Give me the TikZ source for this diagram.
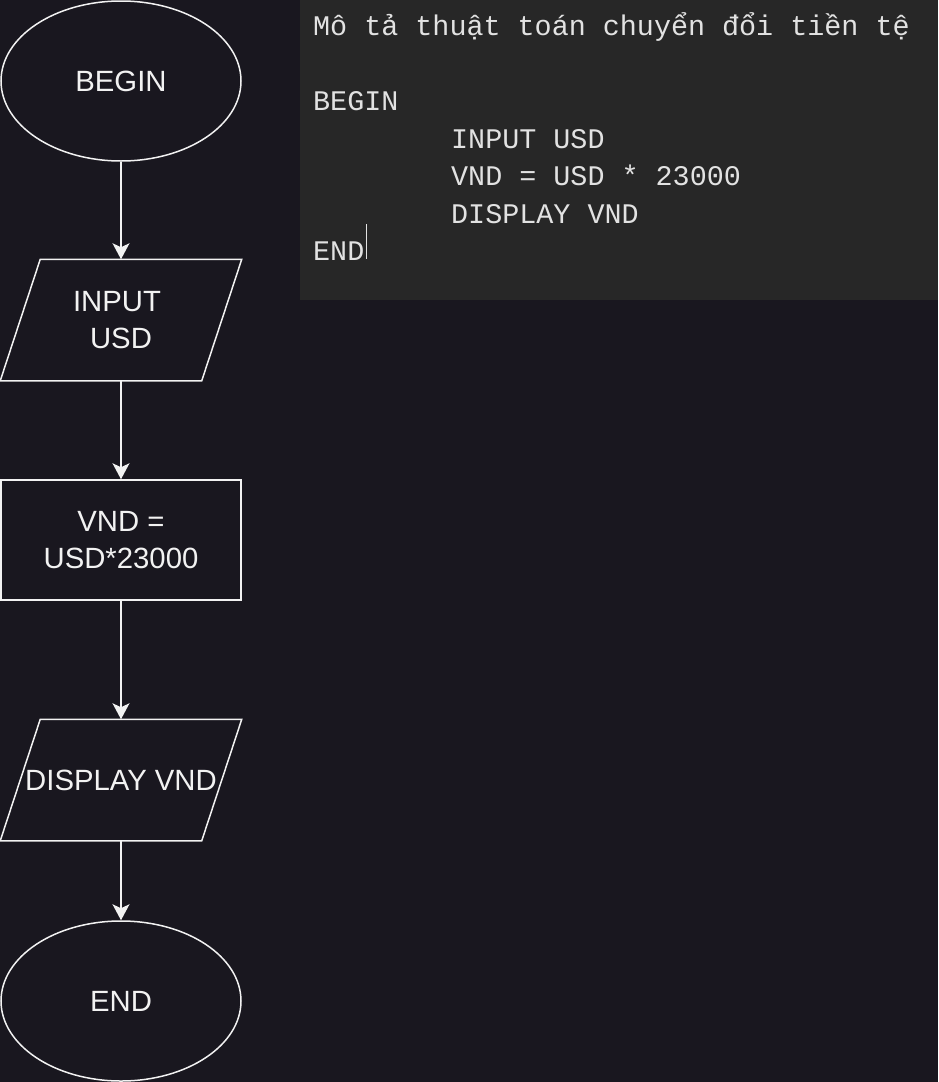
\documentclass[tikz,border=0pt]{standalone}
\usepackage{fontspec}
\usepackage{tikz}
\usetikzlibrary{shapes.geometric,arrows.meta}
\setmainfont{Liberation Sans}
\newfontfamily\codefont{Liberation Mono}
\definecolor{bgdark}{HTML}{19171F}
\definecolor{codebg}{HTML}{272727}
\definecolor{codetext}{HTML}{E2E2E2}
\definecolor{chartline}{HTML}{F2F2F2}
\tikzset{
  chart/.style={draw=chartline, line width=1.5pt, text=chartline, inner sep=0pt,
    font=\fontsize{29.3}{36.5}\selectfont, align=center},
  terminal/.style={chart, ellipse, minimum width=240pt, minimum height=160pt},
  iobox/.style={chart, draw=none, rectangle, minimum width=240pt, minimum height=120pt},
  slant/.style={draw=chartline, line width=1.5pt},
  procbox/.style={chart, rectangle, minimum width=240pt, minimum height=120pt},
  flow/.style={draw=chartline, line width=1.5pt, -{Stealth[length=16pt,width=17pt,inset=4pt]}},
  codeline/.style={anchor=base west, inner sep=0pt, text=codetext,
    font=\codefont\fontsize{28.4}{37.5}\selectfont}
}
\newcommand{\iooutline}[1]{%
  \draw[slant] ([xshift=40pt]#1.north west) -- (#1.north east)
    -- ([xshift=-40pt]#1.south east) -- (#1.south west) -- cycle;}

\begin{document}
\begin{tikzpicture}[x=1pt, y=-1pt]
  \fill[bgdark] (0,0) rectangle (938,1082);
  \useasboundingbox (0,0) rectangle (938,1082);
  % pseudo code panel
  \fill[codebg] (300,0) rectangle (938,300);
  \foreach \n/\x/\y/\t in {title/313/35.4/{Mô tả thuật toán chuyển đổi tiền tệ},
                           cbegin/313/110.4/BEGIN,
                           cinput/451/148/{INPUT USD},
                           ccalc/451/185.5/{VND = USD * 23000},
                           cdisplay/451/223/{DISPLAY VND},
                           cend/313/260.5/END}
    \node [codeline] (\n) at (\x, \y) {\t};
  \draw[codetext, line width=1pt] (cend.east) ++(1.5,-27) -- ++(0,35);
  % flowchart
  \node [terminal] (begin) at (121, 81) {BEGIN};
  \node [iobox] (input) at (121, 320) {INPUT\kern8pt\\USD};
  \iooutline{input}
  \node [procbox] (calc) at (121, 540) {VND =\\USD*23000};
  \node [iobox] (display) at (121, 780) {DISPLAY VND};
  \iooutline{display}
  \node [terminal] (end) at (121, 1001) {END};
  \draw [flow] (begin) -- (input);
  \draw [flow] (input) -- (calc);
  \draw [flow] (calc) -- (display);
  \draw [flow] (display) -- (end);
\end{tikzpicture}
\end{document}
